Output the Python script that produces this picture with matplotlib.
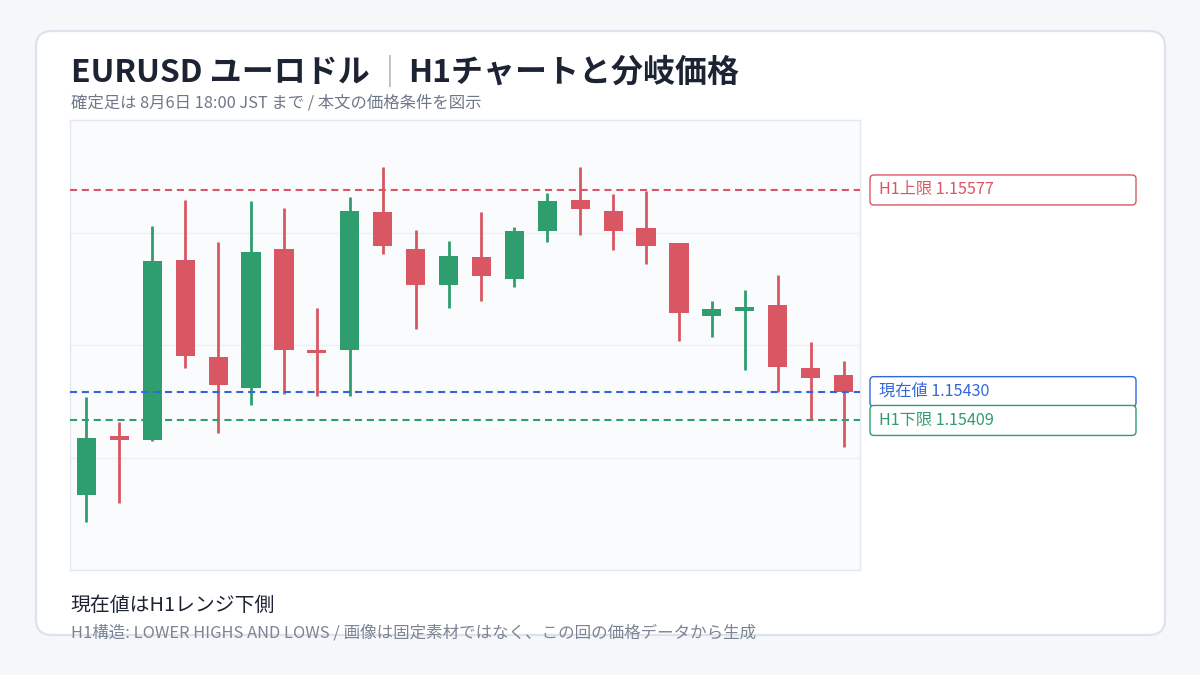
import numpy as np
import matplotlib
matplotlib.use("Agg")
import matplotlib.pyplot as plt
from matplotlib.patches import FancyBboxPatch, Rectangle
from matplotlib.transforms import IdentityTransform

plt.rcParams['font.family'] = ['Noto Sans CJK JP', 'DejaVu Sans']

# H1 candles (oldest -> newest)
opens = [1.15355, 1.15397, 1.15395, 1.15526, 1.15455, 1.15433, 1.15534, 1.15460,
         1.15460, 1.15561, 1.15534, 1.15508, 1.15528, 1.15512, 1.15547, 1.15570,
         1.15562, 1.15549, 1.15538, 1.15485, 1.15489, 1.15493, 1.15447, 1.15442]
highs = [1.15426, 1.15408, 1.15551, 1.15570, 1.15539, 1.15569, 1.15564, 1.15491,
         1.15572, 1.15594, 1.15548, 1.15540, 1.15561, 1.15550, 1.15575, 1.15594,
         1.15574, 1.15576, 1.15538, 1.15496, 1.15504, 1.15515, 1.15466, 1.15452]
lows = [1.15335, 1.15349, 1.15394, 1.15447, 1.15400, 1.15420, 1.15428, 1.15427,
        1.15427, 1.15530, 1.15476, 1.15491, 1.15496, 1.15506, 1.15539, 1.15544,
        1.15533, 1.15523, 1.15467, 1.15470, 1.15446, 1.15430, 1.15409, 1.15390]
closes = [1.15396, 1.15395, 1.15525, 1.15456, 1.15435, 1.15532, 1.15460, 1.15458,
          1.15562, 1.15536, 1.15508, 1.15529, 1.15514, 1.15547, 1.15569, 1.15563,
          1.15547, 1.15536, 1.15487, 1.15490, 1.15491, 1.15448, 1.15440, 1.15430]

level_names = ["H1上限", "現在値", "H1下限"]
level_values = [1.15577, 1.15430, 1.15409]
level_colors = ["#d95763", "#3366dd", "#2e9e6e"]

title_left = "EURUSD ユーロドル"
title_sep = "｜"
title_right = "H1チャートと分岐価格"
subtitle = "確定足は 8月6日 18:00 JST まで / 本文の価格条件を図示"
note_main = "現在値はH1レンジ下側"
note_sub = "H1構造: LOWER HIGHS AND LOWS / 画像は固定素材ではなく、この回の価格データから生成"

UP = "#2e9e6e"
DOWN = "#d95763"
W, H = 1200, 675

fig = plt.figure(figsize=(12, 6.75), dpi=100)
fig.patch.set_facecolor("#f5f7f9")

# card in pixel coords (origin bottom-left)
card = FancyBboxPatch((36, H - 635), 1129, 604, boxstyle="round,pad=0,rounding_size=16",
                      transform=IdentityTransform(), facecolor="white",
                      edgecolor="#dde3ec", linewidth=1.6, zorder=-1)
fig.patches.append(card)

ax = fig.add_axes([70 / W, 1 - 570 / H, 790 / W, 450 / H])
ax.set_facecolor("#fafbfd")
for s in ax.spines.values():
    s.set_color("#e3e8f0")
    s.set_linewidth(1)

x = np.arange(len(opens))
for i in x:
    o, h, l, c = opens[i], highs[i], lows[i], closes[i]
    col = UP if c >= o else DOWN
    ax.vlines(i, l, h, color=col, linewidth=2, zorder=3)
    lo, hi = min(o, c), max(o, c)
    ax.add_patch(Rectangle((i - 0.29, lo), 0.58, max(hi - lo, 0.000025),
                           facecolor=col, edgecolor="none", zorder=4))

for v, c in zip(level_values, level_colors):
    ax.axhline(v, color=c, linestyle=(0, (3.4, 2.3)), linewidth=1.5, zorder=5)

ylo, yhi = 1.15300, 1.15628
ax.set_xlim(-0.5, len(opens) - 0.5)
ax.set_ylim(ylo, yhi)
ax.set_yticks(np.linspace(ylo, yhi, 5)[1:-1])
ax.set_xticks([])
ax.tick_params(left=False, labelleft=False)
ax.grid(axis="y", color="#edf0f4", linewidth=1)
ax.set_axisbelow(True)

# level labels on the right
for name, v, c in zip(level_names, level_values, level_colors):
    yd = ax.transData.transform((0, v))[1]
    box = FancyBboxPatch((870, yd - 15), 266, 30, boxstyle="round,pad=0,rounding_size=4",
                         transform=IdentityTransform(), facecolor="white",
                         edgecolor=c, linewidth=1, zorder=2)
    fig.patches.append(box)
    fig.text(879 / W, yd / H, f"{name} {v:.5f}", color=c, fontsize=11.7,
             va="center", ha="left")

# title pieces
r = fig.canvas.get_renderer()
t1 = fig.text(71 / W, 1 - 82 / H, title_left, fontsize=23, fontweight="bold",
              color="#1c2333", va="baseline")
x1 = t1.get_window_extent(r).x1
t2 = fig.text((x1 + 4) / W, 1 - 82 / H, title_sep, fontsize=23, color="#a0a7b4",
              va="baseline")
x2 = t2.get_window_extent(r).x1
fig.text((x2 + 2) / W, 1 - 82 / H, title_right, fontsize=23, fontweight="bold",
         color="#1c2333", va="baseline")

fig.text(71 / W, 1 - 107 / H, subtitle, fontsize=11.8, color="#6f7889", va="baseline")
fig.text(70 / W, 1 - 611 / H, note_main, fontsize=14.3, color="#1c2333", va="baseline")
t_sub = fig.text(71 / W, 1 - 637 / H, note_sub, fontsize=11.9, color="#7b8494", va="baseline")
t_sub.set_clip_path(card)

fig.savefig("out.png", dpi=100, facecolor=fig.get_facecolor())
